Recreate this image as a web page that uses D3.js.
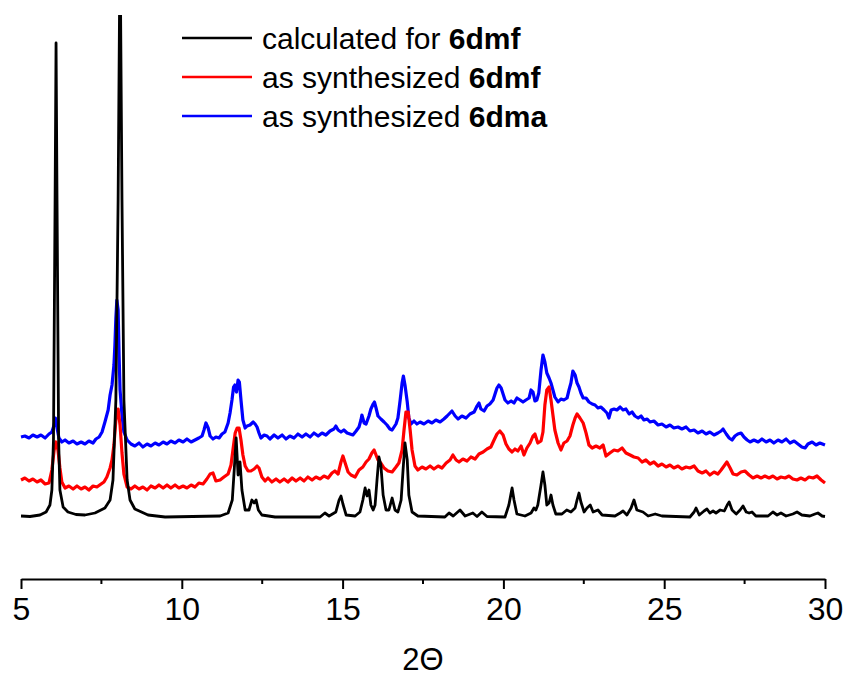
<!DOCTYPE html>
<html>
<head>
    <title>PXRD patterns 6dmf / 6dma</title>
    <script src="https://cdnjs.cloudflare.com/ajax/libs/d3/7.8.5/d3.min.js"></script>
    <style>
        body {
            margin: 0;
            padding: 0;
            background: white;
            font-family: "Liberation Sans", Arial, Helvetica, sans-serif;
        }
        svg text {
            fill: #000;
        }
    </style>
</head>
<body>
    <svg id="chart" width="848" height="677"></svg>

    <script>
        // 2-theta ticks
        const majorTicks = [5, 10, 15, 20, 25, 30];
        const minorTicks = [7.5, 12.5, 17.5, 22.5, 27.5];

        // intensity (a.u., stacked offsets included)
        const calcData = [
            [5.00, 63], [5.28, 62.5], [5.59, 64], [5.78, 67], [5.90, 74], [5.96, 89], [6.01, 139],
            [6.06, 379], [6.09, 536], [6.12, 379], [6.17, 139], [6.21, 89], [6.31, 72], [6.46, 67],
            [6.71, 64.5], [6.99, 64], [7.30, 66], [7.61, 71], [7.77, 79], [7.86, 99], [7.95, 179],
            [8.02, 379], [8.08, 640], [8.14, 379], [8.20, 179], [8.30, 99], [8.39, 79], [8.54, 70],
            [8.95, 64], [9.48, 62], [11.19, 63], [11.44, 66], [11.57, 79], [11.63, 109], [11.69, 141],
            [11.75, 104], [11.81, 117], [11.87, 89], [11.97, 69], [12.09, 69], [12.18, 79], [12.25, 76],
            [12.31, 79], [12.38, 69], [12.49, 64], [12.90, 62], [14.30, 62], [14.45, 66], [14.58, 63],
            [14.79, 67], [14.89, 79], [14.95, 83], [15.01, 75], [15.11, 64], [15.39, 63], [15.54, 67],
            [15.63, 79], [15.70, 91], [15.76, 83], [15.82, 89], [15.88, 74], [15.95, 69], [16.01, 74],
            [16.07, 99], [16.13, 122], [16.19, 114], [16.26, 84], [16.35, 69], [16.44, 69], [16.54, 81],
            [16.63, 69], [16.72, 67], [16.82, 79], [16.88, 109], [16.94, 136], [17.01, 119], [17.06, 84],
            [17.16, 67], [17.34, 63], [18.18, 62], [18.31, 66], [18.44, 63], [18.65, 69], [18.81, 63],
            [19.05, 66], [19.18, 62.5], [19.33, 67], [19.49, 62.5], [20.05, 62], [20.17, 74], [20.27, 91],
            [20.33, 79], [20.42, 65], [20.67, 63], [20.86, 66], [20.95, 71], [21.01, 69], [21.07, 74],
            [21.17, 94], [21.23, 107], [21.29, 94], [21.35, 74], [21.42, 76], [21.48, 84], [21.54, 74],
            [21.63, 65], [21.82, 65], [21.97, 69], [22.10, 67], [22.23, 71], [22.29, 79], [22.35, 86],
            [22.41, 77], [22.51, 67], [22.60, 71], [22.70, 74], [22.79, 67], [22.94, 69], [23.07, 64],
            [23.47, 63], [23.63, 66], [23.72, 68], [23.84, 64], [23.97, 71], [24.06, 79], [24.15, 69],
            [24.34, 67], [24.50, 63], [24.72, 65], [24.93, 63], [25.80, 62], [25.93, 67], [25.99, 71],
            [26.09, 64], [26.24, 68], [26.33, 70], [26.42, 66], [26.52, 68], [26.61, 66], [26.74, 69],
            [26.87, 68], [26.96, 74], [27.02, 77], [27.11, 69], [27.24, 65], [27.36, 69], [27.45, 73],
            [27.55, 67], [27.64, 66], [27.73, 67], [27.85, 63], [28.23, 63], [28.38, 67], [28.51, 64],
            [28.63, 66], [28.79, 63], [29.00, 65], [29.13, 67], [29.28, 64], [29.53, 63], [29.69, 65],
            [29.78, 66], [29.91, 63], [30.00, 62.5]
        ];

        const dmfData = [
            [5.00, 99], [5.12, 101], [5.25, 98], [5.37, 100], [5.50, 97], [5.62, 99], [5.75, 95], [5.87, 96],
            [5.96, 109], [6.03, 129], [6.09, 137], [6.15, 129], [6.21, 111], [6.27, 97], [6.37, 91], [6.49, 93],
            [6.62, 90], [6.74, 93], [6.87, 90], [6.99, 92], [7.11, 89], [7.24, 93], [7.36, 92], [7.49, 95],
            [7.58, 97], [7.67, 102], [7.77, 111], [7.83, 119], [7.89, 134], [7.95, 159], [8.02, 170], [8.08, 154],
            [8.14, 126], [8.20, 105], [8.30, 92], [8.42, 90], [8.54, 93], [8.67, 90], [8.79, 92], [8.92, 89],
            [9.04, 93], [9.17, 91], [9.29, 94], [9.42, 91], [9.54, 94], [9.66, 91], [9.79, 94], [9.91, 91],
            [10.04, 93], [10.16, 91], [10.29, 94], [10.41, 92], [10.53, 96], [10.66, 95], [10.78, 100], [10.88, 105],
            [10.97, 106], [11.06, 98], [11.19, 99], [11.31, 102], [11.44, 105], [11.53, 114], [11.59, 129], [11.66, 146],
            [11.72, 151], [11.78, 151], [11.84, 139], [11.90, 124], [11.97, 113], [12.06, 108], [12.15, 108], [12.25, 110],
            [12.34, 113], [12.40, 111], [12.49, 102], [12.59, 98], [12.68, 101], [12.80, 97], [12.93, 100], [13.05, 97],
            [13.18, 100], [13.30, 97], [13.43, 101], [13.55, 98], [13.68, 101], [13.80, 98], [13.92, 102], [14.05, 99],
            [14.17, 102], [14.30, 100], [14.42, 103], [14.55, 101], [14.67, 106], [14.76, 108], [14.86, 105], [14.95, 117],
            [15.01, 123], [15.07, 117], [15.17, 107], [15.26, 104], [15.39, 102], [15.51, 109], [15.63, 112], [15.73, 117],
            [15.82, 120], [15.91, 126], [15.98, 129], [16.04, 124], [16.10, 119], [16.19, 116], [16.29, 111], [16.41, 108],
            [16.54, 107], [16.66, 112], [16.75, 116], [16.85, 129], [16.91, 149], [16.97, 167], [17.04, 167], [17.10, 149],
            [17.16, 129], [17.25, 113], [17.34, 109], [17.47, 112], [17.59, 110], [17.72, 113], [17.84, 110], [17.97, 113],
            [18.09, 111], [18.22, 116], [18.34, 119], [18.43, 124], [18.53, 119], [18.62, 117], [18.74, 120], [18.87, 118],
            [18.99, 122], [19.12, 120], [19.24, 125], [19.37, 127], [19.49, 130], [19.61, 132], [19.71, 139], [19.80, 145],
            [19.89, 148], [19.99, 144], [20.08, 135], [20.17, 130], [20.27, 127], [20.36, 130], [20.45, 128], [20.55, 133],
            [20.64, 124], [20.73, 131], [20.83, 136], [20.92, 143], [20.98, 145], [21.07, 136], [21.17, 138], [21.23, 147],
            [21.29, 174], [21.35, 189], [21.42, 192], [21.48, 179], [21.54, 164], [21.60, 149], [21.70, 136], [21.79, 129],
            [21.88, 136], [21.98, 138], [22.07, 143], [22.16, 154], [22.23, 161], [22.29, 165], [22.38, 161], [22.48, 156],
            [22.57, 146], [22.66, 134], [22.76, 131], [22.88, 133], [23.00, 131], [23.10, 134], [23.19, 123], [23.31, 126],
            [23.44, 129], [23.56, 128], [23.69, 131], [23.81, 126], [23.94, 124], [24.06, 122], [24.19, 121], [24.31, 117],
            [24.43, 119], [24.56, 115], [24.68, 117], [24.81, 113], [24.93, 115], [25.06, 112], [25.18, 114], [25.30, 111],
            [25.43, 113], [25.55, 110], [25.68, 112], [25.80, 111], [25.93, 113], [26.05, 108], [26.18, 106], [26.30, 108],
            [26.42, 104], [26.55, 107], [26.67, 105], [26.77, 109], [26.86, 113], [26.95, 117], [27.05, 111], [27.14, 105],
            [27.26, 104], [27.39, 107], [27.51, 108], [27.64, 104], [27.76, 101], [27.89, 103], [28.01, 101], [28.13, 103],
            [28.26, 101], [28.38, 103], [28.51, 100], [28.63, 102], [28.76, 101], [28.88, 103], [29.00, 100], [29.13, 99],
            [29.25, 101], [29.38, 99], [29.50, 102], [29.63, 101], [29.75, 103], [29.88, 99], [30.00, 96]
        ];

        const dmaData = [
            [5.00, 142], [5.12, 143], [5.25, 141], [5.37, 144], [5.50, 142], [5.62, 144], [5.75, 141], [5.87, 145],
            [5.96, 147], [6.03, 154], [6.07, 161], [6.12, 151], [6.18, 141], [6.27, 137], [6.37, 139], [6.49, 136],
            [6.62, 138], [6.74, 135], [6.87, 137], [6.99, 135], [7.11, 138], [7.24, 136], [7.33, 140], [7.43, 142],
            [7.52, 147], [7.61, 157], [7.71, 169], [7.77, 184], [7.83, 194], [7.89, 214], [7.92, 234], [7.95, 261],
            [7.98, 279], [8.02, 269], [8.05, 224], [8.08, 189], [8.14, 164], [8.20, 147], [8.30, 139], [8.42, 135],
            [8.54, 133], [8.67, 136], [8.79, 132], [8.92, 135], [9.04, 133], [9.17, 136], [9.29, 134], [9.42, 137],
            [9.54, 135], [9.66, 138], [9.79, 136], [9.91, 139], [10.04, 137], [10.16, 140], [10.29, 137], [10.41, 139],
            [10.53, 141], [10.63, 143], [10.69, 149], [10.75, 156], [10.82, 151], [10.88, 143], [10.97, 140], [11.06, 142],
            [11.16, 141], [11.25, 145], [11.34, 147], [11.44, 156], [11.50, 166], [11.56, 179], [11.61, 192], [11.65, 194],
            [11.70, 187], [11.75, 199], [11.79, 197], [11.84, 179], [11.90, 159], [11.97, 151], [12.03, 153], [12.12, 154],
            [12.22, 157], [12.28, 155], [12.34, 152], [12.40, 146], [12.46, 141], [12.56, 144], [12.65, 143], [12.74, 140],
            [12.87, 144], [12.99, 141], [13.12, 144], [13.24, 140], [13.36, 143], [13.49, 141], [13.61, 145], [13.74, 142],
            [13.86, 145], [13.99, 142], [14.11, 146], [14.24, 143], [14.36, 146], [14.48, 144], [14.61, 148], [14.73, 150],
            [14.79, 153], [14.86, 149], [14.95, 147], [15.04, 149], [15.14, 146], [15.23, 145], [15.32, 144], [15.42, 148],
            [15.51, 152], [15.57, 159], [15.60, 164], [15.67, 156], [15.73, 155], [15.82, 163], [15.88, 170], [15.95, 175],
            [15.99, 177], [16.04, 171], [16.10, 163], [16.19, 160], [16.29, 157], [16.38, 154], [16.47, 150], [16.54, 149],
            [16.60, 152], [16.66, 155], [16.72, 161], [16.79, 179], [16.85, 196], [16.89, 203], [16.94, 194], [17.01, 177],
            [17.06, 161], [17.13, 155], [17.22, 158], [17.31, 155], [17.41, 157], [17.53, 155], [17.66, 158], [17.78, 156],
            [17.90, 159], [18.03, 157], [18.15, 160], [18.25, 163], [18.34, 166], [18.40, 168], [18.50, 163], [18.59, 160],
            [18.71, 163], [18.84, 161], [18.96, 165], [19.09, 167], [19.18, 173], [19.24, 176], [19.30, 170], [19.40, 168],
            [19.49, 173], [19.58, 175], [19.68, 179], [19.74, 185], [19.80, 191], [19.86, 194], [19.93, 191], [19.99, 185],
            [20.05, 179], [20.14, 176], [20.24, 178], [20.33, 176], [20.42, 181], [20.52, 179], [20.61, 177], [20.70, 179],
            [20.80, 181], [20.86, 189], [20.92, 187], [20.98, 178], [21.04, 179], [21.10, 186], [21.17, 209], [21.23, 224],
            [21.29, 217], [21.35, 206], [21.42, 201], [21.48, 196], [21.54, 189], [21.60, 182], [21.70, 177], [21.79, 180],
            [21.88, 179], [21.98, 181], [22.04, 189], [22.10, 196], [22.16, 208], [22.23, 204], [22.29, 196], [22.35, 192],
            [22.41, 186], [22.48, 181], [22.57, 181], [22.66, 177], [22.76, 175], [22.85, 174], [22.94, 171], [23.03, 172],
            [23.13, 169], [23.22, 166], [23.28, 161], [23.35, 169], [23.44, 170], [23.53, 169], [23.63, 172], [23.72, 169],
            [23.81, 170], [23.91, 165], [24.00, 167], [24.09, 163], [24.19, 161], [24.28, 163], [24.37, 159], [24.47, 160],
            [24.56, 157], [24.68, 158], [24.81, 154], [24.93, 155], [25.06, 152], [25.18, 154], [25.30, 151], [25.43, 152],
            [25.55, 150], [25.68, 152], [25.80, 148], [25.93, 149], [26.05, 146], [26.18, 148], [26.30, 145], [26.42, 147],
            [26.55, 144], [26.67, 146], [26.77, 148], [26.83, 150], [26.93, 145], [27.02, 141], [27.11, 139], [27.20, 143],
            [27.29, 145], [27.39, 146], [27.48, 142], [27.58, 139], [27.67, 137], [27.79, 139], [27.92, 137], [28.04, 140],
            [28.17, 137], [28.29, 139], [28.41, 136], [28.54, 139], [28.66, 137], [28.79, 140], [28.91, 136], [29.04, 138],
            [29.16, 135], [29.28, 132], [29.38, 131], [29.47, 135], [29.60, 137], [29.72, 134], [29.84, 136], [30.00, 134]
        ];

        const seriesNames = ['calculated for ', 'as synthesized ', 'as synthesized '];
        const seriesTags = ['6dmf', '6dmf', '6dma'];
        const seriesColors = ['#000000', '#ff0000', '#0000ff'];

        const width = 848;
        const height = 677;
        const margin = {top: 15, right: 23, bottom: 98, left: 21};
        const axisY = height - margin.bottom;

        const svg = d3.select('#chart');

        const x = d3.scaleLinear()
            .domain([5, 30])
            .range([margin.left, width - margin.right]);

        const y = d3.scaleLinear()
            .domain([0, 564])
            .range([axisY, margin.top]);

        svg.append('defs').append('clipPath')
            .attr('id', 'plot-clip')
            .append('rect')
            .attr('x', margin.left - 2)
            .attr('y', margin.top)
            .attr('width', width - margin.left - margin.right + 4)
            .attr('height', axisY - margin.top);

        const line = d3.line()
            .x(d => x(d[0]))
            .y(d => y(d[1]));

        // draw back to front: blue, red, black
        const allSeries = [calcData, dmfData, dmaData];
        const plot = svg.append('g').attr('clip-path', 'url(#plot-clip)');
        [2, 1, 0].forEach(i => {
            plot.append('path')
                .datum(allSeries[i])
                .attr('fill', 'none')
                .attr('stroke', seriesColors[i])
                .attr('stroke-width', i === 0 ? 2.8 : 3.2)
                .attr('stroke-linejoin', 'round')
                .attr('d', line);
        });

        // x axis
        const xAxis = d3.axisBottom(x)
            .tickValues(majorTicks)
            .tickSize(10)
            .tickSizeOuter(0)
            .tickPadding(8)
            .tickFormat(d3.format('d'));

        const axisG = svg.append('g')
            .attr('transform', `translate(0,${axisY})`)
            .call(xAxis);
        axisG.select('.domain').attr('stroke-width', 2);
        axisG.selectAll('.tick line').attr('stroke-width', 2);
        axisG.selectAll('.tick text')
            .attr('font-family', '"Liberation Sans", Arial, sans-serif')
            .attr('font-size', 32);

        axisG.selectAll('.minor')
            .data(minorTicks)
            .join('line')
            .attr('class', 'minor')
            .attr('x1', d => x(d))
            .attr('x2', d => x(d))
            .attr('y1', 0)
            .attr('y2', 5)
            .attr('stroke', '#000')
            .attr('stroke-width', 2);

        svg.append('text')
            .attr('x', x(17.5))
            .attr('y', 670)
            .attr('text-anchor', 'middle')
            .attr('font-size', 31)
            .text('2Θ');

        // legend
        const legend = svg.append('g');
        seriesNames.forEach((name, i) => {
            const ly = 38 + i * 39;
            legend.append('line')
                .attr('x1', 182)
                .attr('x2', 252)
                .attr('y1', ly)
                .attr('y2', ly)
                .attr('stroke', seriesColors[i])
                .attr('stroke-width', 2.5);
            const t = legend.append('text')
                .attr('x', 262)
                .attr('y', ly)
                .attr('dy', '0.35em')
                .attr('font-size', 30);
            t.append('tspan').text(name);
            t.append('tspan').attr('font-weight', 'bold').text(seriesTags[i]);
        });
    </script>
</body>
</html>
